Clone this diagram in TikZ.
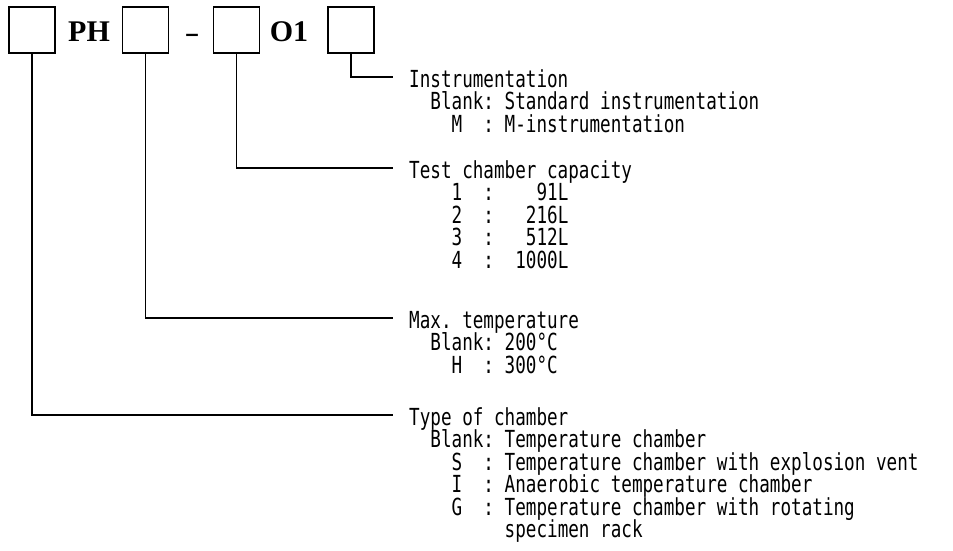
\documentclass[tikz,border=0pt]{standalone}
\usepackage{fontspec}
\setmonofont{DejaVu Sans Mono}[FakeStretch=0.75]
\newfontfamily\codefont{Liberation Serif}
\usetikzlibrary{positioning}

\begin{document}
\begin{tikzpicture}[x=1pt, y=-1pt,
	box/.style={draw, line width=1.3pt, minimum width=46pt, minimum height=46pt, inner sep=0pt},
	code/.style={inner sep=0pt, font=\codefont\bfseries\fontsize{30}{30}\selectfont},
	head/.style={anchor=west, inner xsep=16pt, inner ysep=0pt, text height=20pt, text depth=0pt, font=\ttfamily\fontsize{23.5}{22.5}\selectfont},
	items/.style={anchor=north west, inner sep=0pt, align=left, font={\ttfamily\fontsize{23.5}{22.5}\selectfont\lineskiplimit-20pt\relax}},
	wire/.style={line width=1.3pt}]
	\useasboundingbox (0, 0) rectangle (953, 550);
	% Code boxes:
	\node[box] (b1) at (32, 30) {};
	\node[code] (ph) at (89, 32) {PH};
	\node[box] (b2) at (145.5, 30) {};
	\node[code, font=\codefont\fontsize{30}{30}\selectfont] (dash) at (192, 38) {\scalebox{1.5}[1]{-}};
	\node[box] (b3) at (236.5, 30) {};
	\node[code] (o1) at (289, 32) {O1};
	\node[box] (b4) at (351, 30) {};
	% Headings and options:
	\node[head] (instr) at (393, 77) {Instrumentation};
	\node[items] (instrlist) at ([xshift=16pt]instr.south west) {\rule{0pt}{22.5pt}~~Blank: Standard instrumentation\\~~~~M~~: M-instrumentation};
	\node[head] (capacity) at (393, 168) {Test chamber capacity};
	\node[items] (capacitylist) at ([xshift=16pt]capacity.south west) {\rule{0pt}{22.5pt}~~~~1~~:~~~~91L\\~~~~2~~:~~~216L\\~~~~3~~:~~~512L\\~~~~4~~:~~1000L};
	\node[head] (maxtemp) at (393, 318) {Max. temperature};
	\node[items] (maxtemplist) at ([xshift=16pt]maxtemp.south west) {\rule{0pt}{22.5pt}~~Blank: 200°C\\~~~~H~~: 300°C};
	\node[head] (chamber) at (393, 415) {Type of chamber};
	\node[items] (chamberlist) at ([xshift=16pt]chamber.south west) {\rule{0pt}{22.5pt}~~Blank: Temperature chamber\\~~~~S~~: Temperature chamber with explosion vent\\~~~~I~~: Anaerobic temperature chamber\\~~~~G~~: Temperature chamber with rotating\\~~~~~~~~~specimen rack};
	% Leader lines:
	\draw[wire] (b4.south) |- (instr.west);
	\draw[wire] (b3.south) |- (capacity.west);
	\draw[wire] (b2.south) |- (maxtemp.west);
	\draw[wire] (b1.south) |- (chamber.west);
\end{tikzpicture}
\end{document}
